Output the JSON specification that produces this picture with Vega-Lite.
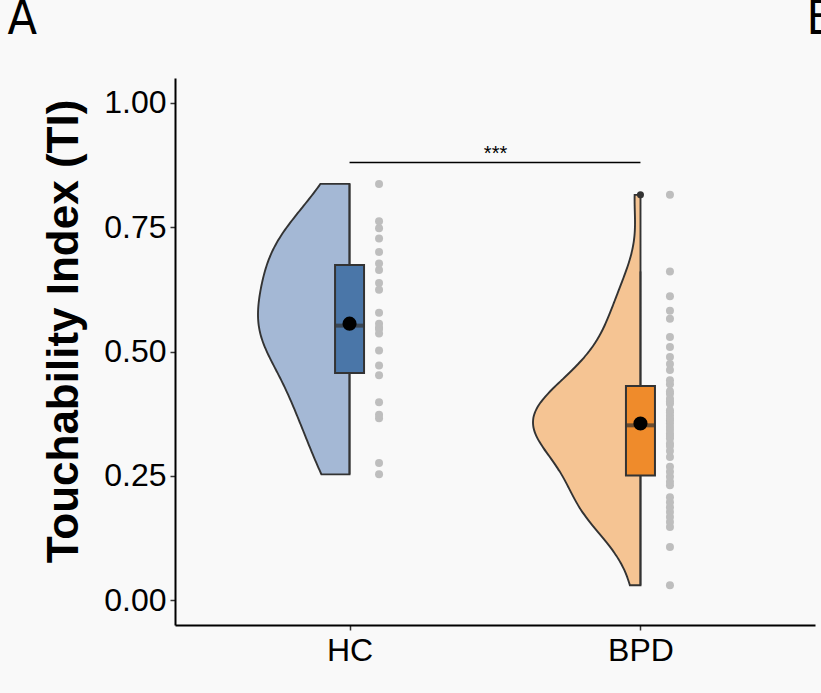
{
  "$schema": "https://vega.github.io/schema/vega-lite/v6.json",
  "width": 640,
  "height": 547,
  "autosize": {"type": "none"},
  "padding": {"left": 175, "top": 78, "right": 6, "bottom": 68},
  "background": "#f9f9f9",
  "config": {
    "view": {"stroke": null},
    "font": "Liberation Sans",
    "axis": {
      "grid": false,
      "domainColor": "black",
      "domainWidth": 2,
      "tickColor": "#333333",
      "tickWidth": 1.5,
      "tickSize": 5,
      "labelFont": "Liberation Sans",
      "labelFontSize": 32,
      "labelColor": "black",
      "titleFont": "Liberation Sans",
      "titleFontSize": 44,
      "titleFontWeight": "bold",
      "titleColor": "black"
    },
    "axisY": {"labelPadding": 4, "titlePadding": 17, "titleY": 253},
    "axisX": {"labelPadding": 5}
  },
  "datasets": {
    "ti": [
      {"group": "HC", "value": 0.253}, {"group": "HC", "value": 0.276}, {"group": "HC", "value": 0.366},
      {"group": "HC", "value": 0.373}, {"group": "HC", "value": 0.398}, {"group": "HC", "value": 0.452},
      {"group": "HC", "value": 0.472}, {"group": "HC", "value": 0.502}, {"group": "HC", "value": 0.536},
      {"group": "HC", "value": 0.545}, {"group": "HC", "value": 0.548}, {"group": "HC", "value": 0.556},
      {"group": "HC", "value": 0.578}, {"group": "HC", "value": 0.624}, {"group": "HC", "value": 0.638},
      {"group": "HC", "value": 0.664}, {"group": "HC", "value": 0.677}, {"group": "HC", "value": 0.700},
      {"group": "HC", "value": 0.727}, {"group": "HC", "value": 0.748}, {"group": "HC", "value": 0.762},
      {"group": "HC", "value": 0.837},
      {"group": "BPD", "value": 0.030}, {"group": "BPD", "value": 0.107}, {"group": "BPD", "value": 0.147},
      {"group": "BPD", "value": 0.157}, {"group": "BPD", "value": 0.167}, {"group": "BPD", "value": 0.177},
      {"group": "BPD", "value": 0.187}, {"group": "BPD", "value": 0.197}, {"group": "BPD", "value": 0.207},
      {"group": "BPD", "value": 0.231}, {"group": "BPD", "value": 0.238}, {"group": "BPD", "value": 0.248},
      {"group": "BPD", "value": 0.258}, {"group": "BPD", "value": 0.268}, {"group": "BPD", "value": 0.288},
      {"group": "BPD", "value": 0.300}, {"group": "BPD", "value": 0.310}, {"group": "BPD", "value": 0.315},
      {"group": "BPD", "value": 0.325}, {"group": "BPD", "value": 0.330}, {"group": "BPD", "value": 0.335},
      {"group": "BPD", "value": 0.342}, {"group": "BPD", "value": 0.348}, {"group": "BPD", "value": 0.355},
      {"group": "BPD", "value": 0.361}, {"group": "BPD", "value": 0.365}, {"group": "BPD", "value": 0.371},
      {"group": "BPD", "value": 0.378}, {"group": "BPD", "value": 0.382}, {"group": "BPD", "value": 0.395},
      {"group": "BPD", "value": 0.400}, {"group": "BPD", "value": 0.405}, {"group": "BPD", "value": 0.415},
      {"group": "BPD", "value": 0.420}, {"group": "BPD", "value": 0.434}, {"group": "BPD", "value": 0.442},
      {"group": "BPD", "value": 0.463}, {"group": "BPD", "value": 0.475}, {"group": "BPD", "value": 0.489},
      {"group": "BPD", "value": 0.509}, {"group": "BPD", "value": 0.529}, {"group": "BPD", "value": 0.566},
      {"group": "BPD", "value": 0.582}, {"group": "BPD", "value": 0.611}, {"group": "BPD", "value": 0.661},
      {"group": "BPD", "value": 0.815}
    ]
  },
  "data": {"name": "ti"},
  "layer": [
    {
      "transform": [
        {"filter": "datum.group === 'HC'"},
        {"density": "value", "bandwidth": 0.075, "extent": [0.253, 0.837], "steps": 120, "as": ["value", "density"]}
      ],
      "mark": {"type": "area", "orient": "horizontal", "fill": "#a4b8d5", "fillOpacity": 1, "stroke": "#333333", "strokeWidth": 1.9, "interpolate": "monotone"},
      "encoding": {
        "y": {"field": "value", "type": "quantitative", "scale": {"domain": [-0.05, 1.05], "nice": false, "zero": false}, "axis": {"values": [0, 0.25, 0.5, 0.75, 1], "format": ".2f", "title": "Touchability Index (TI)"}},
        "x": {"field": "density", "type": "quantitative", "stack": null, "scale": {"nice": false, "zero": true, "range": [174.5, 83]}, "axis": null}
      }
    },
    {
      "transform": [
        {"filter": "datum.group === 'BPD'"},
        {"density": "value", "bandwidth": 0.06, "extent": [0.03, 0.815], "steps": 120, "as": ["value", "density"]}
      ],
      "mark": {"type": "area", "orient": "horizontal", "fill": "#f5c493", "fillOpacity": 1, "stroke": "#333333", "strokeWidth": 1.9, "interpolate": "monotone"},
      "encoding": {
        "y": {"field": "value", "type": "quantitative", "scale": {"domain": [-0.05, 1.05], "nice": false, "zero": false}, "axis": {"values": [0, 0.25, 0.5, 0.75, 1], "format": ".2f", "title": "Touchability Index (TI)"}},
        "x": {"field": "density", "type": "quantitative", "stack": null, "scale": {"nice": false, "zero": true, "range": [465.5, 358]}, "axis": null}
      }
    },
    {
      "layer": [
        {
          "mark": {"type": "boxplot", "extent": 1.5, "size": 29, "ticks": false,
            "box": {"stroke": "#333333", "strokeWidth": 2},
            "median": {"color": "#333333", "thickness": 4},
            "rule": {"color": "#333333", "strokeWidth": 1.8},
            "outliers": {"color": "#333333", "fill": "#333333", "filled": true, "size": 50, "opacity": 1}},
          "encoding": {
            "x": {"field": "group", "type": "nominal", "scale": {"type": "point", "padding": 0.6, "domain": ["HC", "BPD"]}, "axis": {"title": null, "labelAngle": 0}},
            "y": {"field": "value", "type": "quantitative", "scale": {"domain": [-0.05, 1.05], "nice": false, "zero": false}, "axis": {"values": [0, 0.25, 0.5, 0.75, 1], "format": ".2f", "title": "Touchability Index (TI)"}},
            "color": {"field": "group", "type": "nominal", "scale": {"domain": ["HC", "BPD"], "range": ["#4a76a8", "#ef8b2b"]}, "legend": null}
          }
        },
        {
          "mark": {"type": "point", "filled": true, "color": "#bebebe", "size": 64, "opacity": 1, "xOffset": 29.5},
          "encoding": {
            "x": {"field": "group", "type": "nominal", "scale": {"type": "point", "padding": 0.6, "domain": ["HC", "BPD"]}, "axis": {"title": null, "labelAngle": 0}},
            "y": {"field": "value", "type": "quantitative"}
          }
        },
        {
          "mark": {"type": "point", "filled": true, "color": "black", "size": 200, "opacity": 1},
          "encoding": {
            "x": {"field": "group", "type": "nominal", "scale": {"type": "point", "padding": 0.6, "domain": ["HC", "BPD"]}, "axis": {"title": null, "labelAngle": 0}},
            "y": {"aggregate": "mean", "field": "value", "type": "quantitative"}
          }
        },
        {
          "data": {"values": [{"label": "***"}]},
          "mark": {"type": "rule", "color": "black", "strokeWidth": 1.6},
          "encoding": {
            "x": {"datum": "HC", "type": "nominal"},
            "x2": {"datum": "BPD"},
            "y": {"datum": 0.88, "type": "quantitative"}
          }
        },
        {
          "data": {"values": [{"label": "***"}]},
          "mark": {"type": "text", "fontSize": 20, "align": "center", "baseline": "alphabetic", "dx": 146, "dy": -3, "color": "black"},
          "encoding": {
            "x": {"datum": "HC", "type": "nominal"},
            "y": {"datum": 0.88, "type": "quantitative"},
            "text": {"field": "label"}
          }
        },
        {
          "data": {"values": [{"label": "A"}]},
          "mark": {"type": "text", "fontSize": 48, "font": "Liberation Sans Narrow, DejaVu Sans Condensed, Liberation Sans", "align": "left", "baseline": "alphabetic", "dx": -342, "dy": -44, "color": "black"},
          "encoding": {
            "x": {"datum": "HC", "type": "nominal"},
            "y": {"datum": 1.05, "type": "quantitative"},
            "text": {"field": "label"}
          }
        },
        {
          "data": {"values": [{"label": "B"}]},
          "mark": {"type": "text", "fontSize": 48, "font": "Liberation Sans Narrow, DejaVu Sans Condensed, Liberation Sans", "align": "left", "baseline": "alphabetic", "dx": 166, "dy": -44, "color": "black"},
          "encoding": {
            "x": {"datum": "BPD", "type": "nominal"},
            "y": {"datum": 1.05, "type": "quantitative"},
            "text": {"field": "label"}
          }
        }
      ]
    }
  ],
  "resolve": {"scale": {"x": "independent"}}
}
